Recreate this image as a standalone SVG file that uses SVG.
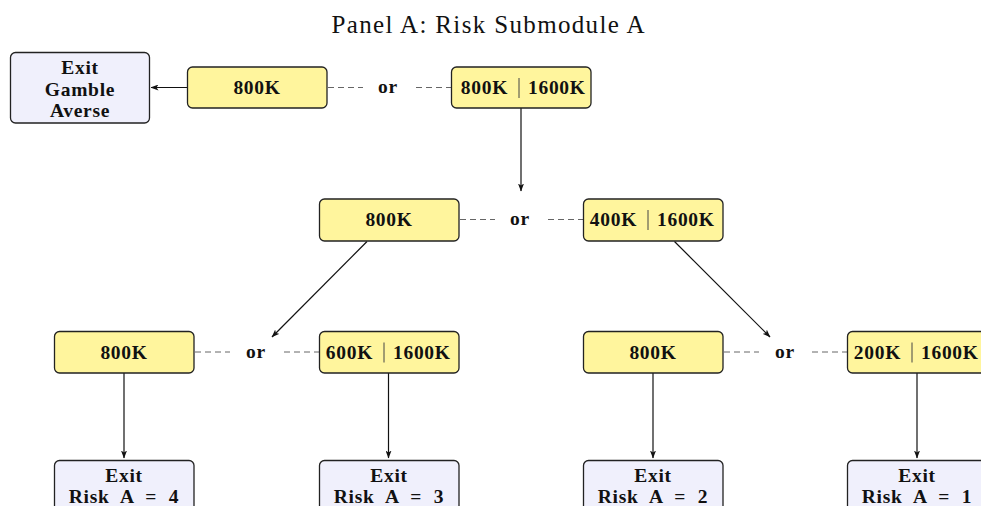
<svg xmlns="http://www.w3.org/2000/svg" width="981" height="506" viewBox="0 0 981 506">
<style>
.opt{fill:#fff59d;stroke:#222;stroke-width:1.3}
.exit{fill:#f0f0fc;stroke:#222;stroke-width:1.3}
.t{font-family:"Liberation Serif","DejaVu Serif",serif;font-weight:bold;font-size:19.5px;fill:#111;letter-spacing:0.7px}
.ws{word-spacing:6px}
.bar{stroke:#444;stroke-width:1}
.arr{stroke:#111;stroke-width:1.2;fill:none;marker-end:url(#ah)}
.dash{stroke:#666;stroke-width:1;stroke-dasharray:6,4;fill:none}
.title{font-family:"Liberation Serif","DejaVu Serif",serif;font-size:25px;fill:#111}
</style>
<defs>
<marker id="ah" viewBox="0 0 8 6" refX="7.5" refY="3" markerWidth="8" markerHeight="6" markerUnits="userSpaceOnUse" orient="auto">
<path d="M0,0 L8,3 L0,6 L2,3 Z" fill="#111"/>
</marker>
</defs>
<rect width="981" height="506" fill="#fff"/>
<text class="title" x="488" y="33" text-anchor="middle" textLength="313" lengthAdjust="spacing">Panel A: Risk Submodule A</text>

<g id="connectors">
<line class="arr" x1="187" y1="87.5" x2="151" y2="87.5"/>
<line class="arr" x1="521" y1="108" x2="521" y2="191"/>
<line class="arr" x1="367" y1="241.5" x2="272" y2="337"/>
<line class="arr" x1="674.5" y1="241.5" x2="770" y2="337"/>
<line class="arr" x1="124" y1="373" x2="124" y2="458"/>
<line class="arr" x1="388.5" y1="373" x2="388.5" y2="458"/>
<line class="arr" x1="653" y1="373" x2="653" y2="458"/>
<line class="arr" x1="917" y1="373" x2="917" y2="458"/>
<line class="dash" x1="328" y1="87.5" x2="363" y2="87.5"/>
<line class="dash" x1="416" y1="87.5" x2="451" y2="87.5"/>
<line class="dash" x1="460" y1="219.5" x2="495" y2="219.5"/>
<line class="dash" x1="548" y1="219.5" x2="583" y2="219.5"/>
<line class="dash" x1="195" y1="352" x2="230" y2="352"/>
<line class="dash" x1="284" y1="352" x2="319" y2="352"/>
<line class="dash" x1="724" y1="352" x2="759" y2="352"/>
<line class="dash" x1="812" y1="352" x2="847" y2="352"/>
</g>

<g id="or1"><text class="t" x="388" y="93" text-anchor="middle">or</text></g>
<g id="or2"><text class="t" x="520" y="225" text-anchor="middle">or</text></g>
<g id="or3"><text class="t" x="256" y="358" text-anchor="middle">or</text></g>
<g id="or4"><text class="t" x="785" y="358" text-anchor="middle">or</text></g>

<g id="exitGamble">
<rect class="exit" x="10.5" y="52.5" width="139" height="70.5" rx="5"/>
<text class="t" x="80" y="73.5" text-anchor="middle">Exit</text>
<text class="t" x="80" y="95.5" text-anchor="middle">Gamble</text>
<text class="t" x="80" y="117" text-anchor="middle">Averse</text>
</g>

<g id="sure1">
<rect class="opt" x="187.5" y="67" width="139.5" height="41" rx="5"/>
<text class="t" x="257" y="94" text-anchor="middle">800K</text>
</g>
<g id="gamble1">
<rect class="opt" x="451.5" y="67" width="139.5" height="41" rx="5"/>
<text class="t" x="508" y="94" text-anchor="end">800K</text>
<line class="bar" x1="519" y1="78" x2="519" y2="98"/>
<text class="t" x="528" y="94">1600K</text>
</g>

<g id="sure2">
<rect class="opt" x="319.5" y="199" width="139.5" height="42" rx="5"/>
<text class="t" x="389" y="226" text-anchor="middle">800K</text>
</g>
<g id="gamble2">
<rect class="opt" x="583.5" y="199" width="139.5" height="42" rx="5"/>
<text class="t" x="637" y="226" text-anchor="end">400K</text>
<line class="bar" x1="648" y1="210" x2="648" y2="230"/>
<text class="t" x="657" y="226">1600K</text>
</g>

<g id="sure3a">
<rect class="opt" x="54.5" y="331.5" width="139.5" height="41.5" rx="5"/>
<text class="t" x="124" y="358.5" text-anchor="middle">800K</text>
</g>
<g id="gamble3a">
<rect class="opt" x="319.5" y="331.5" width="139.5" height="41.5" rx="5"/>
<text class="t" x="373" y="358.5" text-anchor="end">600K</text>
<line class="bar" x1="384" y1="342.5" x2="384" y2="362.5"/>
<text class="t" x="393" y="358.5">1600K</text>
</g>
<g id="sure3b">
<rect class="opt" x="583.5" y="331.5" width="139.5" height="41.5" rx="5"/>
<text class="t" x="653" y="358.5" text-anchor="middle">800K</text>
</g>
<g id="gamble3b">
<rect class="opt" x="847.5" y="331.5" width="139.5" height="41.5" rx="5"/>
<text class="t" x="901" y="358.5" text-anchor="end">200K</text>
<line class="bar" x1="912" y1="342.5" x2="912" y2="362.5"/>
<text class="t" x="921" y="358.5">1600K</text>
</g>

<g id="exit4">
<rect class="exit" x="54.5" y="460.5" width="139.5" height="60" rx="5"/>
<text class="t" x="124" y="481.5" text-anchor="middle">Exit</text>
<text class="t ws" x="124" y="503" text-anchor="middle">Risk A = 4</text>
</g>
<g id="exit3">
<rect class="exit" x="319.5" y="460.5" width="139.5" height="60" rx="5"/>
<text class="t" x="389" y="481.5" text-anchor="middle">Exit</text>
<text class="t ws" x="389" y="503" text-anchor="middle">Risk A = 3</text>
</g>
<g id="exit2">
<rect class="exit" x="583.5" y="460.5" width="139.5" height="60" rx="5"/>
<text class="t" x="653" y="481.5" text-anchor="middle">Exit</text>
<text class="t ws" x="653" y="503" text-anchor="middle">Risk A = 2</text>
</g>
<g id="exit1">
<rect class="exit" x="847.5" y="460.5" width="139.5" height="60" rx="5"/>
<text class="t" x="917" y="481.5" text-anchor="middle">Exit</text>
<text class="t ws" x="917" y="503" text-anchor="middle">Risk A = 1</text>
</g>
</svg>
